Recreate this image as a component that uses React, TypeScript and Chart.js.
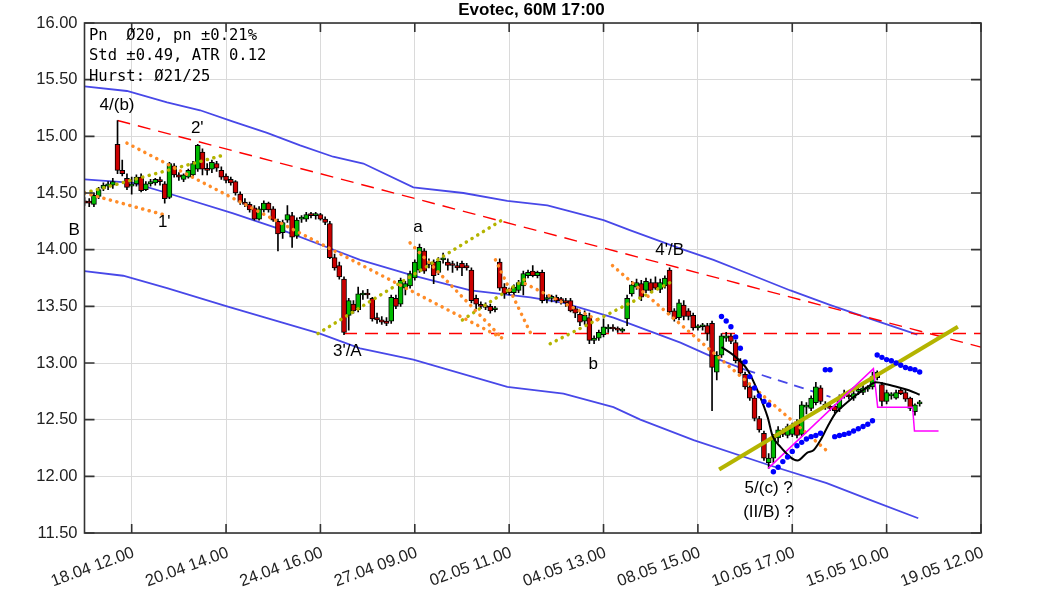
import React, { useEffect, useRef } from 'react';
import { Chart, registerables } from 'chart.js';

Chart.register(...registerables);

// ---------- data ----------
const opens = [
  14.43,14.42,14.40,14.47,14.54,14.56,14.57,14.93,14.70,14.63,
  14.56,14.58,14.64,14.53,14.58,14.59,14.61,14.58,14.46,14.74,
  14.66,14.62,14.64,14.66,14.71,14.86,14.71,14.71,14.76,14.70,
  14.65,14.62,14.60,14.49,14.42,14.40,14.37,14.27,14.35,14.41,
  14.36,14.25,14.15,14.26,14.30,14.12,14.27,14.27,14.31,14.30,
  14.31,14.27,14.23,13.93,13.86,13.74,13.42,13.52,13.47,13.60,
  13.61,13.57,13.40,13.38,13.37,13.37,13.57,13.52,13.66,13.68,
  13.75,13.82,13.99,13.87,13.89,13.80,13.91,13.89,13.87,13.86,
  13.88,13.86,13.82,13.57,13.51,13.50,13.50,13.47,13.89,13.67,
  13.62,13.62,13.64,13.68,13.77,13.81,13.77,13.80,13.56,13.57,
  13.58,13.56,13.55,13.55,13.48,13.43,13.37,13.40,13.20,13.22,
  13.25,13.30,13.31,13.30,13.28,13.39,13.61,13.67,13.70,13.64,
  13.71,13.71,13.65,13.68,13.82,13.46,13.40,13.51,13.46,13.42,
  13.31,13.32,13.33,13.35,12.92,13.07,13.22,13.24,13.18,13.02,
  12.90,12.79,12.69,12.51,12.38,12.12,12.16,12.34,12.38,12.36,
  12.37,12.48,12.37,12.61,12.60,12.65,12.78,12.63,12.62,12.62,
  12.60,12.71,12.71,12.69,12.75,12.74,12.77,12.79,12.87,12.81,
  12.66,12.71,12.69,12.76,12.74,12.69,12.57,12.64,
];
const highs = [
  14.46,14.45,14.50,14.55,14.59,14.60,14.63,15.14,14.79,14.67,
  14.64,14.66,14.67,14.60,14.62,14.63,14.64,14.60,14.77,14.76,
  14.68,14.67,14.71,14.78,14.93,14.89,14.76,14.79,14.78,14.73,
  14.67,14.64,14.61,14.51,14.45,14.42,14.39,14.38,14.43,14.42,
  14.38,14.27,14.26,14.39,14.33,14.28,14.30,14.33,14.33,14.33,
  14.32,14.29,14.25,13.96,13.89,13.76,13.57,13.55,13.67,13.64,
  13.65,13.58,13.44,13.41,13.40,13.60,13.60,13.75,13.72,13.81,
  13.91,14.05,14.01,13.92,13.91,13.93,13.97,13.92,13.90,13.89,
  13.90,13.88,13.84,13.60,13.54,13.53,13.52,13.50,13.92,13.70,
  13.66,13.69,13.73,13.81,13.82,13.86,13.81,13.82,13.60,13.60,
  13.60,13.58,13.57,13.57,13.50,13.45,13.46,13.44,13.24,13.29,
  13.39,13.34,13.34,13.32,13.31,13.60,13.72,13.74,13.73,13.75,
  13.74,13.76,13.74,13.77,13.84,13.48,13.56,13.55,13.48,13.44,
  13.34,13.35,13.35,13.37,13.10,13.26,13.27,13.26,13.20,13.04,
  12.92,12.81,12.71,12.53,12.40,12.20,12.37,12.44,12.42,12.46,
  12.47,12.50,12.66,12.65,12.71,12.83,12.80,12.66,12.64,12.63,
  12.72,12.76,12.74,12.75,12.78,12.80,12.80,12.92,12.93,12.83,
  12.76,12.74,12.76,12.78,12.76,12.70,12.64,12.67,
];
const lows = [
  14.39,14.38,14.38,14.45,14.52,14.53,14.54,14.67,14.65,14.53,
  14.49,14.56,14.51,14.52,14.56,14.57,14.57,14.41,14.45,14.64,
  14.61,14.60,14.63,14.64,14.69,14.66,14.66,14.68,14.69,14.62,
  14.59,14.57,14.48,14.40,14.38,14.33,14.26,14.26,14.33,14.33,
  14.25,13.99,14.10,14.24,14.02,14.10,14.24,14.25,14.28,14.27,
  14.26,14.22,13.92,13.82,13.74,13.25,13.29,13.44,13.45,13.56,
  13.57,13.37,13.35,13.34,13.33,13.35,13.48,13.50,13.60,13.66,
  13.73,13.80,13.79,13.84,13.70,13.78,13.88,13.82,13.80,13.82,
  13.77,13.82,13.53,13.48,13.48,13.47,13.44,13.45,13.64,13.57,
  13.60,13.60,13.62,13.60,13.75,13.76,13.75,13.53,13.53,13.54,
  13.53,13.52,13.50,13.45,13.40,13.33,13.34,13.17,13.17,13.20,
  13.23,13.27,13.28,13.27,13.27,13.33,13.59,13.65,13.55,13.62,
  13.62,13.65,13.62,13.66,13.43,13.37,13.38,13.38,13.38,13.29,
  13.29,13.29,13.20,12.58,12.85,13.05,13.19,13.17,13.00,12.89,
  12.77,12.67,12.49,12.39,12.14,12.07,12.12,12.30,12.35,12.34,
  12.35,12.34,12.35,12.55,12.58,12.63,12.64,12.59,12.58,12.56,
  12.57,12.69,12.68,12.67,12.72,12.72,12.75,12.77,12.85,12.62,
  12.64,12.68,12.68,12.72,12.66,12.58,12.54,12.62,
];
const closes = [
  14.41,14.41,14.48,14.53,14.57,14.58,14.60,14.70,14.67,14.55,
  14.57,14.64,14.52,14.58,14.60,14.62,14.60,14.45,14.76,14.66,
  14.64,14.66,14.70,14.76,14.92,14.71,14.70,14.77,14.72,14.64,
  14.61,14.59,14.50,14.42,14.40,14.35,14.27,14.36,14.41,14.35,
  14.26,14.14,14.24,14.31,14.11,14.26,14.28,14.31,14.30,14.31,
  14.27,14.24,13.93,13.84,13.76,13.27,13.55,13.46,13.61,13.61,
  13.60,13.39,13.38,13.36,13.35,13.58,13.50,13.73,13.70,13.79,
  13.89,14.02,13.81,13.88,13.77,13.90,13.92,13.86,13.86,13.84,
  13.84,13.84,13.55,13.52,13.50,13.49,13.46,13.48,13.66,13.61,
  13.63,13.67,13.71,13.79,13.80,13.77,13.80,13.55,13.57,13.58,
  13.55,13.55,13.53,13.46,13.44,13.36,13.42,13.20,13.22,13.27,
  13.32,13.31,13.30,13.29,13.30,13.57,13.69,13.71,13.58,13.72,
  13.64,13.66,13.71,13.75,13.45,13.39,13.53,13.41,13.41,13.31,
  13.32,13.33,13.26,12.96,13.07,13.24,13.24,13.19,13.02,12.91,
  12.79,12.69,12.51,12.41,12.16,12.16,12.35,12.41,12.37,12.44,
  12.45,12.36,12.63,12.62,12.69,12.79,12.66,12.62,12.60,12.58,
  12.70,12.72,12.70,12.73,12.76,12.78,12.79,12.88,12.92,12.66,
  12.74,12.72,12.74,12.73,12.68,12.60,12.63,12.65,
];

const tickIndex = [10, 30, 50, 70, 90, 110, 130, 150, 170, 190];
const tickLabels = [
  '18.04 12.00', '20.04 14.00', '24.04 16.00', '27.04 09.00', '02.05 11.00',
  '04.05 13.00', '08.05 15.00', '10.05 17.00', '15.05 10.00', '19.05 12.00',
];

// regression channel
const upperX = [0, 9, 17.5, 24.5, 31.5, 38.7, 45.7, 52.7, 59.1, 69.7, 80.3, 89.6, 98.1, 110, 115.7, 126.3, 133.3, 140.6, 149.6, 158.1, 167.2, 176.5];
const upperY = [15.44, 15.40, 15.30, 15.23, 15.13, 15.03, 14.92, 14.82, 14.76, 14.55, 14.50, 14.43, 14.39, 14.26, 14.17, 14.01, 13.91, 13.79, 13.64, 13.51, 13.38, 13.25];
const middleX = [0, 10.3, 17.5, 31.5, 40.8, 52.1, 58.4, 69.7, 81.8, 94.5, 101.5, 112.1, 126.3, 133.3, 140.1];
const middleY = [14.62, 14.59, 14.50, 14.32, 14.19, 14.01, 13.91, 13.77, 13.64, 13.58, 13.53, 13.40, 13.18, 13.05, 12.94];
const middleDashX = [140.1, 158.1];
const middleDashY = [12.94, 12.70];
const lowerX = [0, 8.2, 17.5, 30.2, 49.9, 58.4, 69.7, 89.6, 101.5, 112.1, 117.8, 129.1, 145, 157.3, 166.6, 176.7];
const lowerY = [13.81, 13.77, 13.66, 13.50, 13.26, 13.13, 13.03, 12.79, 12.73, 12.61, 12.50, 12.32, 12.10, 11.94, 11.79, 11.63];

// red dashed
const redDownX = [7, 190];
const redDownY = [15.14, 13.14];
const redFlatX = [55, 190];
const redFlatY = [13.26, 13.26];

// dotted trend lines
const orangeSegX = [[9, 88.5], [0, 17.5], [69, 88.5], [87.1, 94.7], [93.4, 108.7], [111.9, 157.5]];
const orangeSegY = [[14.94, 13.22], [14.50, 14.30], [14.06, 13.22], [13.91, 13.25], [13.70, 13.38], [13.86, 12.22]];
const oliveSegX = [[0, 30], [49.5, 89.2], [98.7, 124.6], [80.1, 94.1]];
const oliveSegY = [[14.50, 14.84], [13.26, 14.28], [13.17, 13.72], [13.38, 13.76]];
const oliveThickX = [134.5, 185.1];
const oliveThickY = [12.06, 13.32];

// average line and magenta path
const blackX = [135, 137.5, 140.5, 142.8, 144.8, 145.8, 147.5, 151.1, 153.2, 154.5, 156, 157.5, 159.2, 160.2, 163, 166, 167.7, 170.2, 173, 174.7, 177];
const blackY = [13.14, 13.07, 12.94, 12.74, 12.52, 12.36, 12.26, 12.14, 12.21, 12.23, 12.32, 12.44, 12.56, 12.60, 12.70, 12.79, 12.83, 12.81, 12.78, 12.76, 12.72];
const magentaX = [144.9, 167.2, 168.1, 175.5, 175.9, 181];
const magentaY = [12.07, 12.95, 12.61, 12.61, 12.40, 12.40];

// parabolic SAR dots
const sarX = [135,136,137,138,139,140,141,142,143,144,145,146,147,148,149,150,151,152,153,154,155,156,157,158,159,160,161,162,163,164,165,166,167,168,169,170,171,172,173,174,175,176,177];
const sarY = [
  13.41,13.37,13.32,13.23,13.13,13.01,12.88,12.78,12.71,12.66,12.63,
  12.04,12.08,12.13,12.17,12.22,12.27,12.30,12.33,12.35,12.36,12.38,
  12.94,12.94,
  12.35,12.36,12.37,12.38,12.40,12.42,12.44,12.46,12.49,
  13.07,13.05,13.03,13.02,13.00,12.98,12.96,12.95,12.94,12.92,
];

const labelTexts = ['4/(b)', "2'", "1'", 'B', 'a', "3'/A", 'b', "4'/B", '5/(c) ?', '(II/B) ?'];
const labelX = [6.9, 23.9, 16.9, -2.2, 70.7, 55.7, 107.8, 124.0, 145.0, 145.0];
const labelY = [15.27, 15.07, 14.24, 14.17, 14.20, 13.10, 12.99, 13.99, 11.89, 11.685];

const titleText = 'Evotec, 60M 17:00';
const infoLines = ['Pn  Ø20, pn ±0.21%', 'Std ±0.49, ATR 0.12', 'Hurst: Ø21/25'];

// ---------- styles ----------
const SANS = '"Liberation Sans", Arial, sans-serif';
const MONO = '"DejaVu Sans Mono", monospace';
const BLUE = '#4848E8';
const ORANGE = '#FF8C28';
const OLIVE = '#B4B400';
const GREEN = '#00BB00';
const RED = '#CC0000';

const pts = (xs: number[], ys: number[]) => xs.map((x, k) => ({ x, y: ys[k] }));

const decorPlugin = {
  id: 'decor',
  afterDatasetsDraw(chart: any) {
    const { ctx, scales } = chart;
    const xs = scales.x;
    const ys = scales.y;
    ctx.save();
    ctx.font = `17px ${SANS}`;
    ctx.fillStyle = '#000';
    ctx.textAlign = 'center';
    ctx.textBaseline = 'middle';
    labelTexts.forEach((t, k) => {
      ctx.fillText(t, xs.getPixelForValue(labelX[k]), ys.getPixelForValue(labelY[k]));
    });
    ctx.restore();
  },
  afterDraw(chart: any) {
    const { ctx, chartArea: a, scales } = chart;
    const xs = scales.x;
    const ys = scales.y;
    ctx.save();
    ctx.strokeStyle = '#333';
    ctx.lineWidth = 1.6;
    ctx.strokeRect(a.left, a.top, a.right - a.left, a.bottom - a.top);
    ctx.beginPath();
    xs.ticks.forEach((t: any) => {
      const px = xs.getPixelForValue(t.value);
      ctx.moveTo(px, a.bottom);
      ctx.lineTo(px, a.bottom - 9);
      ctx.moveTo(px, a.top);
      ctx.lineTo(px, a.top + 9);
    });
    ys.ticks.forEach((t: any) => {
      const py = ys.getPixelForValue(t.value);
      ctx.moveTo(a.left, py);
      ctx.lineTo(a.left + 10, py);
      ctx.moveTo(a.right, py);
      ctx.lineTo(a.right - 10, py);
    });
    ctx.stroke();

    ctx.fillStyle = '#000';
    ctx.font = `bold 17px ${SANS}`;
    ctx.textAlign = 'center';
    ctx.textBaseline = 'alphabetic';
    ctx.fillText(titleText, chart.width / 2, 15);

    ctx.font = `15.5px ${MONO}`;
    ctx.textAlign = 'left';
    infoLines.forEach((line, k) => {
      ctx.fillText(line, a.left + 4.5, a.top + 16.5 + k * 20.5);
    });
    ctx.restore();
  },
};

export default function App() {
  const canvasRef = useRef<HTMLCanvasElement | null>(null);

  useEffect(() => {
    document.body.style.margin = '0';
    const canvas = canvasRef.current;
    if (!canvas) return;

    const lineDs = (xs: number[], ys: number[], extra: any) => ({
      type: 'line',
      data: pts(xs, ys),
      pointRadius: 0,
      fill: false,
      ...extra,
    });

    const datasets: any[] = [
      lineDs(upperX, upperY, { borderColor: BLUE, borderWidth: 1.8, order: 30 }),
      lineDs(middleX, middleY, { borderColor: BLUE, borderWidth: 1.8, order: 30 }),
      lineDs(middleDashX, middleDashY, { borderColor: BLUE, borderWidth: 1.8, borderDash: [10, 7], order: 30 }),
      lineDs(lowerX, lowerY, { borderColor: BLUE, borderWidth: 1.8, order: 30 }),
      lineDs(redDownX, redDownY, { borderColor: '#FF0000', borderWidth: 1.4, borderDash: [13, 8], order: 29 }),
      lineDs(redFlatX, redFlatY, { borderColor: '#FF0000', borderWidth: 1.4, borderDash: [13, 8], order: 29 }),
      {
        type: 'bar',
        data: opens.map((_, k) => ({ x: k, y: [lows[k], highs[k]] })),
        backgroundColor: '#000',
        borderWidth: 0,
        barThickness: 1,
        grouped: false,
        order: 20,
      },
      {
        type: 'bar',
        data: opens.map((o, k) => ({ x: k, y: [o, closes[k]] })),
        backgroundColor: opens.map((o, k) => (closes[k] >= o ? GREEN : RED)),
        borderColor: '#000',
        borderWidth: 1,
        borderSkipped: false,
        barThickness: 5,
        minBarLength: 2,
        grouped: false,
        order: 19,
      },
      ...orangeSegX.map((xs, k) =>
        lineDs(xs, orangeSegY[k], {
          borderColor: ORANGE, borderWidth: 3.5, borderDash: [0.1, 6.6], borderCapStyle: 'round', order: 10,
        })
      ),
      ...oliveSegX.map((xs, k) =>
        lineDs(xs, oliveSegY[k], {
          borderColor: OLIVE, borderWidth: 3.5, borderDash: [0.1, 6.6], borderCapStyle: 'round', order: 10,
        })
      ),
      lineDs(oliveThickX, oliveThickY, { borderColor: OLIVE, borderWidth: 4, order: 9 }),
      lineDs(blackX, blackY, { borderColor: '#000', borderWidth: 2, cubicInterpolationMode: 'monotone', order: 8 }),
      lineDs(magentaX, magentaY, { borderColor: '#FF00FF', borderWidth: 1.5, order: 8 }),
      {
        type: 'line',
        data: pts(sarX, sarY),
        showLine: false,
        pointRadius: 2.7,
        pointBackgroundColor: '#0000FF',
        pointBorderWidth: 0,
        order: 7,
      },
    ];

    const chart = new Chart(canvas, {
      type: 'bar',
      data: { datasets },
      options: {
        responsive: false,
        animation: false,
        devicePixelRatio: 1,
        events: [],
        layout: { padding: { top: 23, right: 82, left: 0, bottom: 0 } },
        plugins: {
          legend: { display: false },
          tooltip: { enabled: false },
          title: { display: false },
        },
        scales: {
          x: {
            type: 'linear',
            min: 0,
            max: 190,
            offset: false,
            afterBuildTicks: (scale: any) => {
              scale.ticks = tickIndex.map((v) => ({ value: v }));
            },
            afterFit: (scale: any) => {
              scale.height = 58;
            },
            grid: { color: '#dadada', lineWidth: 1, drawTicks: false, offset: false },
            border: { display: false },
            ticks: {
              autoSkip: false,
              minRotation: 20,
              maxRotation: 20,
              padding: 10,
              labelOffset: 2,
              color: '#222',
              font: { family: SANS, size: 16.5 },
              callback: (value: any) => {
                const k = tickIndex.indexOf(Number(value));
                return k >= 0 ? tickLabels[k] : '';
              },
            },
          },
          y: {
            type: 'linear',
            min: 11.5,
            max: 16,
            beginAtZero: false,
            afterFit: (scale: any) => {
              scale.width = 84.5;
            },
            grid: { color: '#dadada', lineWidth: 1, drawTicks: false },
            border: { display: false },
            ticks: {
              stepSize: 0.5,
              padding: 7,
              color: '#222',
              font: { family: SANS, size: 16.5 },
              callback: (value: any) => Number(value).toFixed(2),
            },
          },
        },
      } as any,
      plugins: [decorPlugin],
    } as any);

    return () => {
      chart.destroy();
    };
  }, []);

  return (
    <div style={{ width: 1063, height: 591, background: '#fff' }}>
      <canvas ref={canvasRef} width={1063} height={591} />
    </div>
  );
}
